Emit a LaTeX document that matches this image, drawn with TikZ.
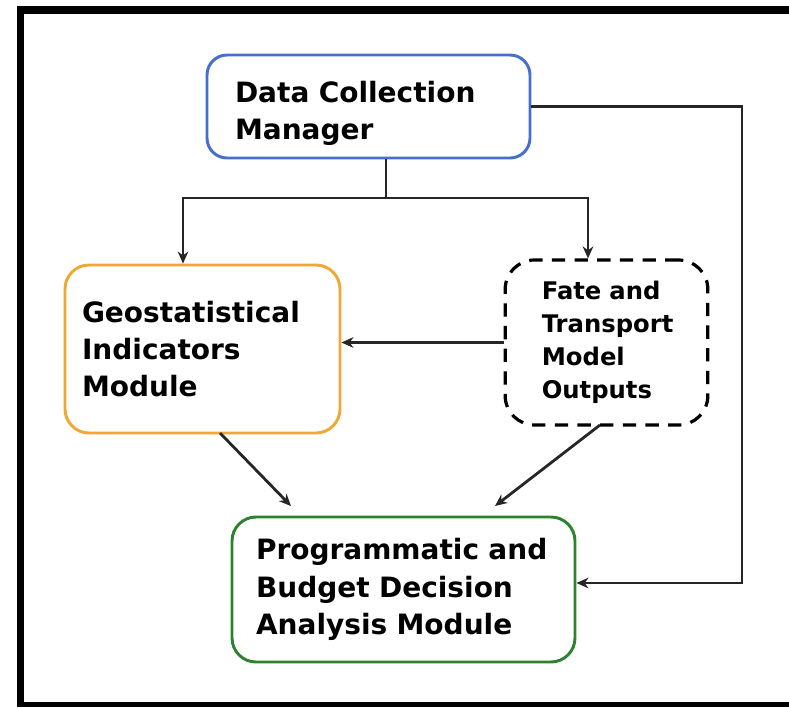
\documentclass[tikz,border=0pt]{standalone}
\usepackage{fontspec}
\setmainfont{DejaVu Sans}
\usetikzlibrary{arrows.meta}
\definecolor{dcmblue}{RGB}{70,110,205}
\definecolor{geoorange}{RGB}{240,168,50}
\definecolor{pbgreen}{RGB}{45,130,45}
\tikzset{
  box/.style={draw, line width=2.2pt, fill=white, align=left, inner ysep=0pt,
    font=\bfseries\fontsize{21}{28}\selectfont},
  arr/.style={line width=2.1pt, draw={black!85}, -{Stealth[length=9pt,width=8pt]}},
  conn/.style={line width=2.1pt, draw={black!85}},
}
\begin{document}
\begin{tikzpicture}[x=0.75pt,y=-0.75pt]
\useasboundingbox (0,0) rectangle (789,707);
% frame
\fill[black] (17,6) rectangle (789,14);
\fill[black] (17,6) rectangle (24,707);
\fill[black] (17,702) rectangle (789,707);
% boxes
\node[box, draw=dcmblue, rounded corners=15pt, inner xsep=21pt, text width=200.25pt,
  minimum height=77.25pt] (dcm) at (368.5,106.5) {\rule{0pt}{26pt}Data Collection\\Manager};
\node[box, draw=geoorange, rounded corners=18pt, inner xsep=12.75pt, text width=180.75pt,
  minimum height=126pt] (geo) at (202.5,349) {Geostatistical\\Indicators\\Module};
\node[box, draw=black, dashed, dash pattern=on 10pt off 7pt, line width=2.4pt, rounded corners=22pt,
  inner xsep=27.5pt, text width=97pt, minimum height=123.75pt,
  font=\bfseries\fontsize{18.2}{24.75}\selectfont] (fate) at (606.5,342.5)
  {Fate and\\Transport\\Model\\Outputs};
\node[box, draw=pbgreen, rounded corners=18pt, inner xsep=18pt, text width=221.25pt,
  minimum height=108.75pt] (pbd) at (403.5,589.5) {Programmatic and\\Budget Decision\\Analysis Module};
% connector coordinates
\coordinate (j) at (386,198);
\coordinate (jl) at (183,198);
\coordinate (jr) at (588,198);
\coordinate (rc) at (742,583);
\coordinate (g1) at (220,433);
\coordinate (g2) at (291,506);
\coordinate (f1) at (600,425);
\coordinate (f2) at (495,506);
% connectors
\draw[conn] (dcm.south -| j) -- (j);
\draw[arr] (j) -- (jl) -- (jl |- geo.north);
\draw[arr] (j) -- (jr) -- (jr |- fate.north);
\draw[arr] (fate.west) -- (geo.east |- fate.west);
\draw[arr] (g1) -- (g2);
\draw[arr] (f1) -- (f2);
\draw[arr] (dcm.east) -| (rc) -- (pbd.east |- rc);
\end{tikzpicture}
\end{document}
